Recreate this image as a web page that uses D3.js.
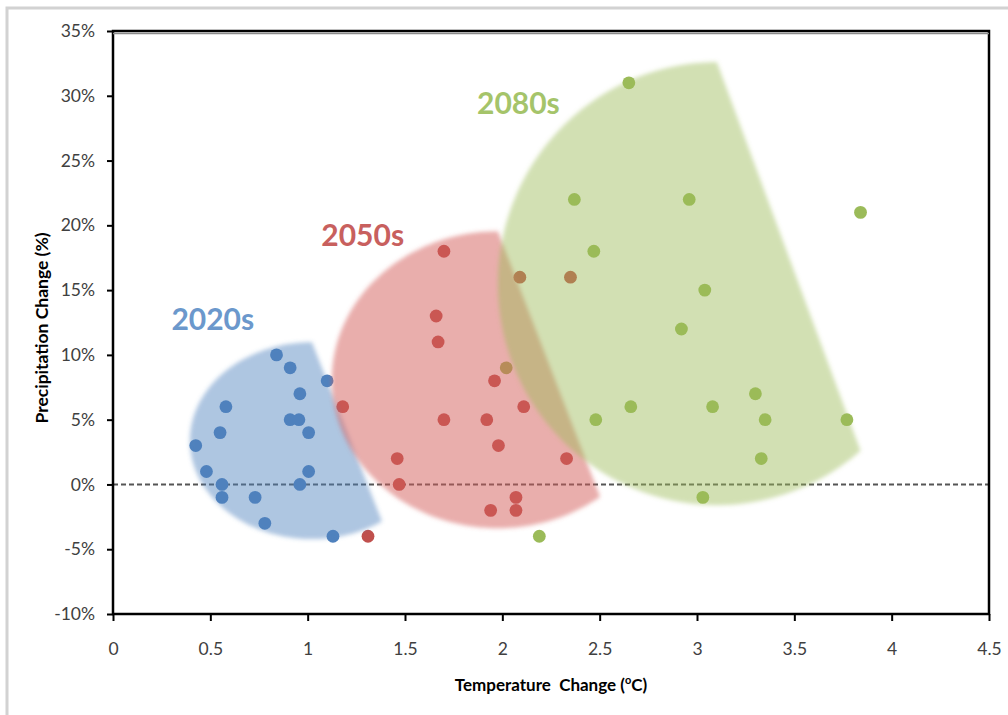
<!DOCTYPE html>
<html>
<head>
<meta charset="utf-8">
<script src="https://cdn.jsdelivr.net/npm/d3@7"></script>
<style>
  body { margin: 0; background: #fff; }
  svg { display: block; font-family: Lato, "Open Sans", sans-serif; }
</style>
</head>
<body>
<svg id="chart" width="1008" height="715"></svg>
<script>
'use strict';

// temperature change (deg C) and precipitation change (%) per period
var temp2020s = [0.84, 0.91, 1.10, 0.96, 0.58, 0.91, 0.955, 0.55, 1.005, 0.425, 0.48, 1.005, 0.56, 0.96, 0.56, 0.73, 0.78, 1.13];
var prec2020s = [10, 9, 8, 7, 6, 5, 5, 4, 4, 3, 1, 1, 0, 0, -1, -1, -3, -4];

var temp2050s = [1.70, 2.09, 2.35, 1.66, 1.67, 1.96, 1.18, 2.11, 1.70, 1.92, 1.98, 1.46, 2.33, 1.47, 2.07, 1.94, 2.07, 1.31];
var prec2050s = [18, 16, 16, 13, 11, 8, 6, 6, 5, 5, 3, 2, 2, 0, -1, -2, -2, -4];

var temp2080s = [2.65, 2.37, 2.96, 3.84, 2.47, 3.04, 2.92, 2.02, 3.30, 2.66, 3.08, 2.48, 3.35, 3.77, 3.33, 3.03, 2.19];
var prec2080s = [31, 22, 22, 21, 18, 15, 12, 9, 7, 6, 6, 5, 5, 5, 2, -1, -4];

var periods = ["2020s", "2050s", "2080s"];
var xTicks = [0, 0.5, 1, 1.5, 2, 2.5, 3, 3.5, 4, 4.5];
var yTicks = [-10, -5, 0, 5, 10, 15, 20, 25, 30, 35];

// shaded regions: ellipse centre / radii in data units, chord end angle (deg)
var regionCx = [1.022, 1.977, 3.102];
var regionCy = [3.38, 8.08, 15.5];
var regionRx = [0.627, 0.853, 1.125];
var regionRy = [7.6, 11.46, 17.1];
var regionEnd = [55, 52, 49];

// label anchor (data units)
var labelX = [0.30, 1.07, 1.87];
var labelY = [11.9, 18.4, 28.6];

var dotColors = ["#4f81bd", "#c0504d", "#9bbb59"];
var regionColors = ["#4f81bd", "#d35c5a", "#9bbb59"];
var regionOpacity = [0.46, 0.5, 0.45];
var labelColors = ["#6b98cc", "#c8605e", "#a5c46a"];

var svg = d3.select("#chart");
var plotL = 113, plotR = 989, plotT = 31, plotB = 614;

var x = d3.scaleLinear().domain([0, 4.5]).range([plotL, plotR]);
var y = d3.scaleLinear().domain([-10, 35]).range([plotB, plotT]);

// outer chart frame
svg.append("rect")
    .attr("x", 7).attr("y", 8)
    .attr("width", 1010).attr("height", 720)
    .attr("fill", "#fff")
    .attr("stroke", "#d2d2d2")
    .attr("stroke-width", 3);

var defs = svg.append("defs");
defs.append("filter").attr("id", "soft")
    .attr("x", "-10%").attr("y", "-10%").attr("width", "120%").attr("height", "120%")
    .append("feGaussianBlur").attr("stdDeviation", 2.2);

// zero line
svg.append("line")
    .attr("x1", plotL).attr("x2", plotR)
    .attr("y1", y(0)).attr("y2", y(0))
    .attr("stroke", "#555")
    .attr("stroke-width", 2)
    .attr("stroke-dasharray", "5,3");

// points
var sets = [
    d3.zip(temp2020s, prec2020s),
    d3.zip(temp2050s, prec2050s),
    d3.zip(temp2080s, prec2080s)
];

sets.forEach(function(pts, i) {
    svg.append("g").selectAll("circle")
        .data(pts)
        .enter().append("circle")
        .attr("cx", function(d) { return x(d[0]); })
        .attr("cy", function(d) { return y(d[1]); })
        .attr("r", 6.4)
        .attr("fill", dotColors[i]);
});

// translucent regions drawn over the points
var regionPath = function(i) {
    var angles = d3.range(-90, -360 + regionEnd[i] - 0.5, -2).concat([-360 + regionEnd[i]]);
    var pts = angles.map(function(a) {
        var r = a * Math.PI / 180;
        return [regionCx[i] + regionRx[i] * Math.cos(r),
                regionCy[i] - regionRy[i] * Math.sin(r)];
    });
    return d3.line()
        .x(function(d) { return x(d[0]); })
        .y(function(d) { return y(d[1]); })(pts) + "Z";
};

periods.forEach(function(p, i) {
    svg.append("path")
        .attr("d", regionPath(i))
        .attr("fill", regionColors[i])
        .attr("fill-opacity", regionOpacity[i])
        .attr("filter", "url(#soft)");
});

// axes
var xAxis = d3.axisBottom(x).tickValues(xTicks).tickSize(7).tickPadding(22)
    .tickFormat(function(d) { return String(d); });
var yAxis = d3.axisLeft(y).tickValues(yTicks).tickSize(6).tickPadding(12)
    .tickFormat(function(d) { return d + "%"; });

var gx = svg.append("g").attr("transform", "translate(0," + plotB + ")").call(xAxis);
var gy = svg.append("g").attr("transform", "translate(" + plotL + ",0)").call(yAxis);

[gx, gy].forEach(function(g) {
    g.select(".domain").remove();
    g.selectAll(".tick line").attr("stroke", "#000").attr("stroke-width", 2);
    g.selectAll(".tick text")
        .attr("fill", "#404040")
        .style("font-size", "17.5px")
        .style("font-family", "Lato, sans-serif");
});

// plot box
svg.append("rect")
    .attr("x", plotL).attr("y", plotT)
    .attr("width", plotR - plotL).attr("height", plotB - plotT)
    .attr("fill", "none")
    .attr("stroke", "#000")
    .attr("stroke-width", 2.5);
svg.append("line")
    .attr("x1", plotL).attr("x2", plotR)
    .attr("y1", plotT + 2.5).attr("y2", plotT + 2.5)
    .attr("stroke", "#8a8a8a").attr("stroke-width", 1.5);

// period labels
periods.forEach(function(p, i) {
    svg.append("text")
        .attr("x", x(labelX[i]))
        .attr("y", y(labelY[i]))
        .attr("fill", labelColors[i])
        .style("font-size", "30px")
        .style("font-weight", "bold")
        .text(p);
});

// axis titles
var xt = svg.append("text")
    .attr("x", (plotL + plotR) / 2)
    .attr("y", 691)
    .attr("text-anchor", "middle")
    .attr("fill", "#000")
    .style("font-size", "17px")
    .style("font-weight", "bold")
    .attr("xml:space", "preserve");
xt.append("tspan").text("Temperature  Change (");
xt.append("tspan").attr("dy", -7).style("font-size", "11px").text("o");
xt.append("tspan").attr("dy", 7).text("C)");

svg.append("text")
    .attr("transform", "translate(48," + 328 + ") rotate(-90)")
    .attr("text-anchor", "middle")
    .attr("fill", "#000")
    .style("font-size", "17.5px")
    .style("font-weight", "bold")
    .text("Precipitation Change (%)");
</script>
</body>
</html>
